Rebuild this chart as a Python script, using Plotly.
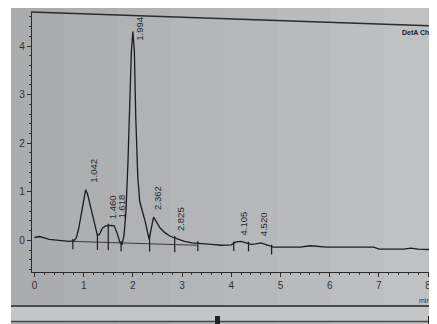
import numpy as np
import plotly.graph_objects as go

# ---------------- data ----------------
time_min = [0.00, 0.10, 0.20, 0.30, 0.50, 0.70, 0.80, 0.85, 0.90, 0.95, 1.00, 1.04, 1.08,
            1.15, 1.22, 1.28, 1.32, 1.38, 1.45, 1.55, 1.62, 1.68, 1.74, 1.78, 1.82, 1.86,
            1.90, 1.94, 1.97, 2.00, 2.03, 2.06, 2.10, 2.14, 2.20, 2.26, 2.33, 2.38, 2.42,
            2.48, 2.55, 2.65, 2.75, 2.85, 2.95, 3.05, 3.20, 3.40, 3.60, 3.80, 4.00, 4.10,
            4.20, 4.30, 4.40, 4.50, 4.60, 4.75, 4.85, 5.00, 5.40, 5.60, 5.80, 5.95, 6.90,
            7.00, 7.50, 7.65, 7.80, 8.10]
signal = [0.06, 0.08, 0.05, 0.02, 0.00, -0.02, -0.01, 0.05, 0.25, 0.55, 0.85, 1.04, 0.95,
          0.65, 0.32, 0.10, 0.12, 0.25, 0.30, 0.31, 0.30, 0.15, -0.05, -0.08, 0.10, 0.60,
          1.60, 3.00, 3.90, 4.30, 3.90, 2.50, 1.30, 0.80, 0.60, 0.35, 0.02, 0.30, 0.48,
          0.38, 0.26, 0.16, 0.09, 0.05, 0.01, -0.02, -0.05, -0.06, -0.08, -0.10, -0.09, -0.03,
          -0.02, -0.05, -0.08, -0.07, -0.05, -0.10, -0.14, -0.14, -0.14, -0.11, -0.12, -0.14, -0.14,
          -0.18, -0.18, -0.16, -0.18, -0.19]

peak_times = [1.042, 1.460, 1.618, 1.994, 2.362, 2.825, 4.105, 4.520]
peak_labels = ["1.042", "1.460", "1.618", "1.994", "2.362", "2.825", "4.105", "4.520"]
peak_heights = [1.04, 0.30, 0.31, 4.30, 0.48, 0.06, -0.03, -0.06]

baseline_t = [0.78, 3.30]
baseline_v = [-0.02, -0.10]
marker_times = [0.78, 1.28, 1.50, 1.76, 2.34, 2.85, 3.32, 4.05, 4.35, 4.82]

x_ticks = [0, 1, 2, 3, 4, 5, 6, 7, 8]
y_ticks = [0, 1, 2, 3, 4]

# ---------------- layout helpers ----------------
# the page body has an 8px margin, so the figure is drawn 8px in from the top-left
OFF = 8
W, H = 437 - OFF, 324 - OFF
ML, MR, MT, MB = 24, 4, 5, 52
PW, PH = W - ML - MR, H - MT - MB


def px(x_ref):
    return (x_ref - OFF - ML) / PW


def py(y_ref):
    return (H - MB - (y_ref - OFF)) / PH


fig = go.Figure()

# main chromatogram
fig.add_trace(go.Scatter(x=time_min, y=signal, mode="lines",
                         line=dict(color="#1c1c1c", width=1.3), hoverinfo="skip"))

# integration baseline
fig.add_trace(go.Scatter(x=baseline_t, y=baseline_v, mode="lines",
                         line=dict(color="#3a3a3a", width=1), hoverinfo="skip"))

# peak-boundary markers
mx, my = [], []
for t in marker_times:
    s = float(np.interp(t, time_min, signal))
    b = float(np.interp(t, baseline_t, baseline_v)) if baseline_t[0] <= t <= baseline_t[1] else s
    mx += [t, t, None]
    my += [max(s, b) + 0.04, min(s, b) - 0.16, None]
fig.add_trace(go.Scatter(x=mx, y=my, mode="lines",
                         line=dict(color="#1c1c1c", width=1.2), hoverinfo="skip"))

# peak labels (rotated)
for t, lab, h in zip(peak_times, peak_labels, peak_heights):
    fig.add_annotation(x=t, y=min(h + 0.1, 4.06), text=lab, textangle=-90,
                       showarrow=False, xanchor="center", yanchor="bottom", xshift=7,
                       font=dict(size=9.5, color="#2a2a2a", family="Liberation Sans"))

# ---------------- background decoration ----------------
shapes = []
bands = ["#aaacae", "#adafb1", "#b0b2b4", "#b3b5b7", "#b6b8ba", "#babbbd", "#bdbec0", "#c0c1c2"]
n = len(bands)
for i, c in enumerate(bands):
    x0 = 11 + (437 - 11) * i / n
    x1 = 11 + (437 - 11) * (i + 1) / n + 1
    shapes.append(dict(type="rect", xref="paper", yref="paper",
                       x0=px(x0), x1=px(x1), y0=py(330), y1=py(6),
                       fillcolor=c, line=dict(width=0), layer="below"))
# lower scroll strip
shapes.append(dict(type="rect", xref="paper", yref="paper", x0=px(11), x1=px(440),
                   y0=py(321), y1=py(307), fillcolor="#c3c5c6", line=dict(width=0), layer="below"))
shapes.append(dict(type="line", xref="paper", yref="paper", x0=px(11), x1=px(440),
                   y0=py(306), y1=py(306), line=dict(color="#4a4a4a", width=2), layer="below"))
shapes.append(dict(type="line", xref="paper", yref="paper", x0=px(11), x1=px(440),
                   y0=py(321.5), y1=py(321.5), line=dict(color="#4a4a4a", width=1.5), layer="below"))
for xa, xb in [(215, 220), (428, 432)]:
    shapes.append(dict(type="rect", xref="paper", yref="paper", x0=px(xa), x1=px(xb),
                       y0=py(324), y1=py(316), fillcolor="#222222", line=dict(width=0), layer="below"))
# tilted top frame and right frame (photo perspective)
shapes.append(dict(type="line", xref="paper", yref="paper", x0=px(31), y0=py(12),
                   x1=px(435), y1=py(26), line=dict(color="#2b2b2b", width=1.4)))
shapes.append(dict(type="line", xref="paper", yref="paper", x0=px(434), y0=py(26),
                   x1=px(433), y1=py(272), line=dict(color="#2b2b2b", width=1.4)))

fig.add_annotation(xref="paper", yref="paper", x=px(400), y=py(33), text="<b>DetA Ch1</b>",
                   showarrow=False, xanchor="left", yanchor="middle",
                   font=dict(size=7, color="#222222", family="Liberation Sans"))
fig.add_annotation(xref="paper", yref="paper", x=px(424), y=py(300), text="min",
                   showarrow=False, xanchor="center", yanchor="middle",
                   font=dict(size=7, color="#333333", family="Liberation Sans"))

axis_common = dict(showgrid=False, zeroline=False, showline=True, linecolor="#2b2b2b",
                   linewidth=1.4, ticks="outside", ticklen=4, tickcolor="#2b2b2b",
                   tickfont=dict(size=10, color="#333333", family="Liberation Sans"),
                   minor=dict(ticks="outside", ticklen=2, tickcolor="#3a3a3a", dtick=0.2))

fig.update_layout(
    width=W, height=H, autosize=False,
    margin=dict(l=ML, r=MR, t=MT, b=MB, pad=0),
    paper_bgcolor="#ffffff", plot_bgcolor="rgba(0,0,0,0)",
    showlegend=False, shapes=shapes,
    xaxis=dict(range=[-0.05, 8.1], tickvals=x_ticks, **axis_common),
    yaxis=dict(range=[-0.65, 4.68], tickvals=y_ticks, **axis_common),
)

fig.write_html("out.html")
